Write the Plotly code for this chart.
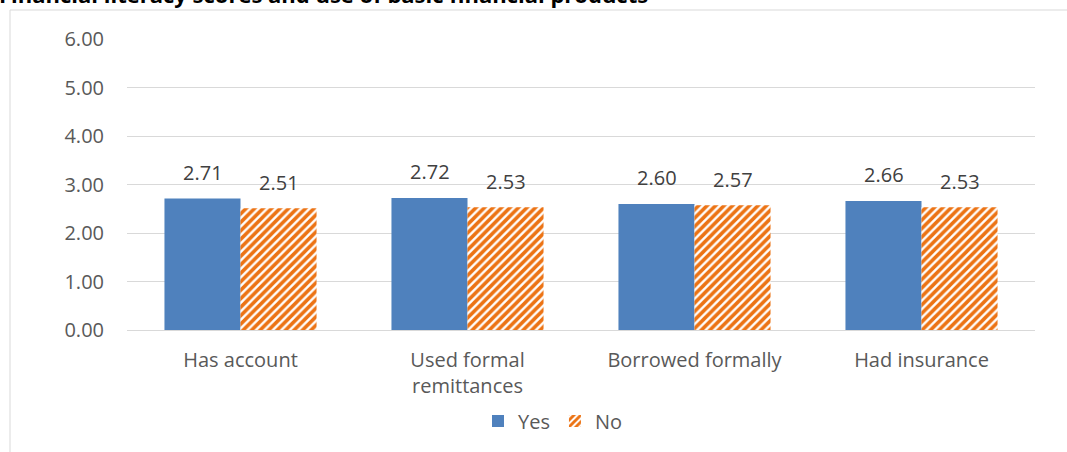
import plotly.graph_objects as go

categories = ["Has account", "Used formal<br>remittances", "Borrowed formally", "Had insurance"]
yes_values = [2.71, 2.72, 2.60, 2.66]
no_values = [2.51, 2.53, 2.57, 2.53]
tick_vals = [0, 1, 2, 3, 4, 5, 6]
tick_text = ["0.00", "1.00", "2.00", "3.00", "4.00", "5.00", "6.00"]

BLUE = "#4F81BD"
ORANGE = "#EC7314"
FONT = "Open Sans"
FS = 20

# plot area in page pixels
PL, PR, PT, PB = 127, 1035, 39, 330
PW, PH = PR - PL, PB - PT

fig = go.Figure()
fig.add_trace(go.Bar(
    name="Yes", x=categories, y=yes_values,
    marker=dict(color=BLUE, line=dict(width=0)),
))
fig.add_trace(go.Bar(
    name="No", x=categories, y=no_values,
    marker=dict(color="white", line=dict(width=0),
                pattern=dict(shape="/", fgcolor=ORANGE, bgcolor="white", fgopacity=1,
                             fillmode="replace", size=6, solidity=0.6)),
))

annotations = []
for cat, v in zip(categories, yes_values):
    annotations.append(dict(x=cat, y=v, xref="x", yref="y", text=f"{v:.2f}", showarrow=False,
                            xshift=-38, yshift=11, yanchor="bottom",
                            font=dict(size=FS, color="#404040", family=FONT)))
for cat, v in zip(categories, no_values):
    annotations.append(dict(x=cat, y=v, xref="x", yref="y", text=f"{v:.2f}", showarrow=False,
                            xshift=38, yshift=10, yanchor="bottom",
                            font=dict(size=FS, color="#404040", family=FONT)))
annotations.append(dict(text="<b>Financial literacy scores and use of basic financial products</b>",
                        xref="paper", yref="paper", x=(-3 - PL) / PW, xanchor="left",
                        y=(PB - 11) / PH, yanchor="bottom", showarrow=False,
                        font=dict(size=22, color="#000000", family=FONT)))

fig.update_layout(
    width=1067, height=452,
    margin=dict(l=PL, r=1067 - PR, t=PT, b=452 - PB),
    paper_bgcolor="white", plot_bgcolor="white",
    font=dict(family=FONT, size=FS, color="#595959"),
    barmode="group", bargap=0.33, bargroupgap=0,
    showlegend=True,
    legend=dict(orientation="h", x=(478 - PL) / PW, xanchor="left", y=(PB - 421) / PH, yanchor="middle",
                font=dict(size=FS, color="#595959"), traceorder="normal", itemwidth=30),
    xaxis=dict(showgrid=False, ticks="", showline=False, ticklabelstandoff=16,
               tickfont=dict(size=FS, color="#595959")),
    yaxis=dict(range=[0, 6], tickvals=tick_vals, ticktext=tick_text, showgrid=True,
               gridcolor="#D9D9D9", gridwidth=1, zeroline=True, zerolinecolor="#D9D9D9",
               zerolinewidth=1, showline=False, ticks="", ticklabelstandoff=22,
               tickfont=dict(size=FS, color="#595959")),
    shapes=[dict(type="rect", xref="paper", yref="paper",
                 x0=(10 - PL) / PW, x1=(1080 - PL) / PW,
                 y0=(PB - 460) / PH, y1=(PB - 10) / PH,
                 line=dict(color="#D9D9D9", width=1), fillcolor="rgba(0,0,0,0)", layer="below")],
    annotations=annotations,
)

fig.write_html("out.html", config={"displayModeBar": False},
               post_script="document.body.style.margin='0';")
